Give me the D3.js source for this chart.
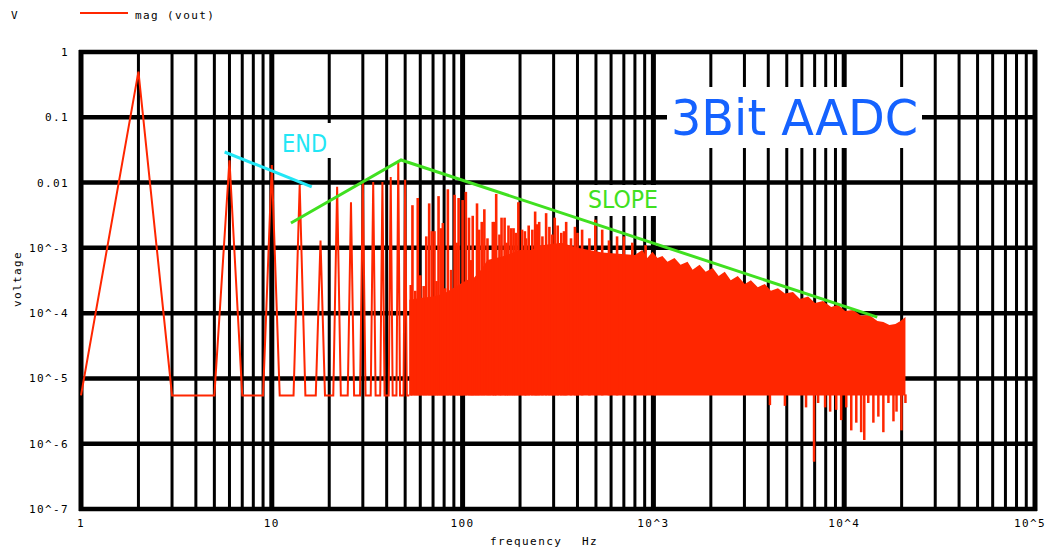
<!DOCTYPE html>
<html lang="en">
<head>
<meta charset="UTF-8">
<title>3Bit AADC spectrum</title>
<script src="https://d3js.org/d3.v7.min.js"></script>
<style>
  body { margin: 0; background: #fff; }
  svg { display: block; }
  .mono { font-family: "DejaVu Sans Mono", monospace; font-size: 11px; letter-spacing: 1.4px; fill: #000; }
</style>
</head>
<body>
<svg width="1047" height="550"></svg>
<script>
const width = 1047, height = 550;

// tick labels
const xTickVals = [1, 10, 100, 1e3, 1e4, 1e5];
const xTickText = ["1", "10", "100", "10^3", "10^4", "10^5"];
const yTickVals = [1, 0.1, 0.01, 1e-3, 1e-4, 1e-5, 1e-6, 1e-7];
const yTickText = ["1", "0.1", "0.01", "10^-3", "10^-4", "10^-5", "10^-6", "10^-7"];

// noise floor of the trace (V) and the bin width (Hz) of the sparse peaks
const floorV = 5.5e-6;
const binHz = 1;

// sparse low-frequency peaks (Hz, V)
const peakFreq = [2, 6, 10, 14, 18, 22, 26, 30, 34, 38, 42, 46, 50];
const peakVal  = [0.5, 0.022, 0.0186, 0.0092, 0.0013, 0.0086, 0.005, 0.0102, 0.0102, 0.0102, 0.0122, 0.0214, 0.011];

// dense part: top of the solid red band (Hz, V)
const denseTop = [
  [52.6, 1.6e-4], [60, 1.7e-4], [70, 1.8e-4], [80, 2.0e-4], [95, 2.7e-4], [105, 3.2e-4],
  [115, 3.5e-4], [125, 4.6e-4], [135, 6.5e-4], [160, 7.3e-4], [200, 9.3e-4], [230, 9.3e-4],
  [260, 1.1e-3], [330, 1.2e-3], [400, 1.0e-3], [539, 8.5e-4],
  [800, 7.8e-4], [875, 9.3e-4], [930, 7.0e-4], [988, 8.7e-4], [1050, 7.0e-4], [1115, 7.5e-4],
  [1185, 6.1e-4], [1290, 7.0e-4], [1388, 5.5e-4], [1510, 6.1e-4], [1605, 4.6e-4], [1746, 5.5e-4],
  [1879, 4.3e-4], [2046, 4.9e-4], [2198, 3.7e-4], [2366, 4.3e-4], [2543, 3.2e-4], [2768, 3.7e-4],
  [3013, 2.8e-4], [3243, 3.2e-4], [3525, 2.5e-4], [3837, 2.8e-4], [4128, 2.2e-4], [4495, 2.4e-4],
  [4890, 2.0e-4], [5390, 2.1e-4], [5865, 1.65e-4], [6470, 1.8e-4], [7035, 1.43e-4], [7745, 1.54e-4],
  [8545, 1.24e-4], [9300, 1.34e-4], [10120, 1.08e-4], [11140, 1.12e-4], [12270, 9.1e-5],
  [13540, 9.4e-5], [14920, 7.6e-5], [16040, 7.3e-5], [17260, 6.6e-5], [18550, 6.8e-5],
  [19720, 7.6e-5], [20940, 8.7e-5]
];

// spikes above the band (Hz, V)
const spikes = [
  [53.5, 2.7e-4], [54.6, 4.5e-3], [56.5, 2.2e-4], [58.2, 5.8e-3], [60, 3.8e-4], [62.5, 2.6e-4],
  [64.5, 1.5e-3], [66.8, 4.8e-3], [69, 1.8e-3], [71.2, 1.8e-3], [73, 3.1e-4], [74.8, 6.2e-3],
  [77, 2.0e-3], [78.8, 2.4e-3], [81, 2.4e-4], [83.7, 7.9e-3], [87, 4.6e-4], [90.8, 6.5e-3],
  [93, 1.2e-3], [95.3, 5.8e-3], [98, 2.4e-4], [100, 5.4e-3], [104, 7.2e-3], [108, 2.9e-3],
  [111, 6.5e-4], [113, 3.1e-3], [116, 3.2e-4], [119, 4.8e-3], [122, 1.9e-3], [126, 2.5e-3],
  [130, 3.9e-3], [135, 1.4e-3], [139, 4.3e-4], [144, 2.5e-3], [147, 2.5e-3], [150, 6.7e-3],
  [156, 1.6e-3], [160, 2.9e-3], [166, 2.9e-3], [170, 1.2e-3], [174, 2.2e-3], [180, 2.0e-3],
  [185, 2.0e-3], [190, 1.7e-3], [196, 5.0e-3], [205, 1.9e-3], [212, 1.8e-3], [215, 1.4e-3],
  [222, 2.2e-3], [232, 1.9e-3], [240, 3.6e-3], [245, 2.3e-3], [252, 2.5e-3], [262, 1.5e-3],
  [274, 3.4e-3], [285, 2.1e-3], [295, 1.6e-3], [304, 2.9e-3], [315, 2.2e-3], [329, 1.7e-3],
  [340, 1.8e-3], [349, 2.5e-3], [370, 1.4e-3], [388, 2.1e-3], [400, 1.7e-3], [423, 1.9e-3],
  [462, 1.4e-3], [496, 2.7e-3], [539, 1.9e-3], [585, 1.3e-3], [645, 1.5e-3], [700, 1.5e-3],
  [775, 1.2e-3], [910, 1.1e-3], [1020, 7.3e-4]
];

// dips below the floor at high frequency (Hz, V)
const dips = [
  [4080, 3.9e-6], [4890, 3.8e-6], [6310, 3.6e-6], [6950, 5.3e-7], [7300, 4.2e-6], [7940, 3.6e-6],
  [8440, 3.1e-6], [9080, 3.3e-6], [9640, 2.3e-6], [10250, 3.6e-6], [10890, 1.6e-6], [11570, 2.1e-6],
  [12270, 1.5e-6], [12740, 1.14e-6], [13370, 4.2e-6], [14220, 2.1e-6], [15100, 2.6e-6],
  [16040, 1.5e-6], [17050, 4.2e-6], [18120, 2.2e-6], [18800, 3.1e-6], [19950, 1.6e-6], [20940, 4.2e-6]
];

// hand drawn annotations (Hz, V)
const endLine = [[5.66, 0.0294], [16.2, 0.0086]];
const slopeLine = [[12.6, 2.4e-3], [47.6, 0.0222], [14900, 8.7e-5]];

const svg = d3.select("svg");

const x = d3.scaleLog().domain([1, 1e5]).range([81, 1035]);
const y = d3.scaleLog().domain([1e-7, 1]).range([509, 52]);

// grid
const grid = svg.append("g");
const minor = [];
for (let d = 1; d < 1e5; d *= 10) for (let k = 2; k <= 9; k++) minor.push(d * k);
grid.selectAll(".vminor").data(minor).enter().append("line")
  .attr("x1", d => x(d)).attr("x2", d => x(d))
  .attr("y1", y(1)).attr("y2", y(1e-7))
  .attr("stroke", "#000").attr("stroke-width", 3);
grid.selectAll(".hmajor").data(yTickVals).enter().append("line")
  .attr("x1", x(1) - 2).attr("x2", x(1e5) + 2)
  .attr("y1", d => y(d)).attr("y2", d => y(d))
  .attr("stroke", "#000").attr("stroke-width", 4.5);
grid.selectAll(".vmajor").data(xTickVals).enter().append("line")
  .attr("x1", d => x(d)).attr("x2", d => x(d))
  .attr("y1", y(1) - 2).attr("y2", y(1e-7) + 2)
  .attr("stroke", "#000").attr("stroke-width", 5);

// tick labels (last one pulled inside the page edge)
svg.selectAll(".xt").data(xTickVals).enter().append("text")
  .attr("class", "mono")
  .attr("x", (d, i) => i === xTickVals.length - 1 ? width - 1 : x(d)).attr("y", 527)
  .attr("text-anchor", (d, i) => i === xTickVals.length - 1 ? "end" : "middle")
  .text((d, i) => xTickText[i]);
svg.selectAll(".yt").data(yTickVals).enter().append("text")
  .attr("class", "mono")
  .attr("x", 69).attr("y", d => y(d) + 4)
  .attr("text-anchor", "end")
  .text((d, i) => yTickText[i]);

svg.append("text").attr("class", "mono").attr("x", 490).attr("y", 545).text("frequency");
svg.append("text").attr("class", "mono").attr("x", 582).attr("y", 545).text("Hz");
svg.append("text").attr("class", "mono")
  .attr("transform", "translate(21,279) rotate(-90)")
  .attr("text-anchor", "middle").text("voltage");

// legend
svg.append("text").attr("class", "mono").attr("x", 11).attr("y", 19).text("V");
svg.append("line").attr("x1", 80).attr("x2", 128).attr("y1", 13).attr("y2", 13)
  .attr("stroke", "#ff2600").attr("stroke-width", 2);
svg.append("text").attr("class", "mono").attr("x", 135).attr("y", 19).text("mag (vout)");

// trace
const red = "#ff2600";
const sparse = [];
peakFreq.forEach((f, i) => {
  sparse.push([f - binHz, floorV], [f, peakVal[i]], [f + binHz, floorV]);
});
sparse.push([denseTop[0][0], floorV]);

svg.append("path")
  .datum(sparse)
  .attr("fill", "none").attr("stroke", red).attr("stroke-width", 2)
  .attr("d", d3.line().x(d => x(d[0])).y(d => y(d[1])));

svg.append("path")
  .datum(denseTop)
  .attr("fill", red)
  .attr("d", d3.area().x(d => x(d[0])).y0(y(floorV)).y1(d => y(d[1])));

svg.selectAll(".spike").data(spikes).enter().append("line")
  .attr("x1", d => x(d[0])).attr("x2", d => x(d[0]))
  .attr("y1", y(floorV)).attr("y2", d => y(d[1]))
  .attr("stroke", red).attr("stroke-width", 2.6);

svg.selectAll(".dip").data(dips).enter().append("line")
  .attr("x1", d => x(d[0])).attr("x2", d => x(d[0]))
  .attr("y1", y(floorV) - 1).attr("y2", d => y(d[1]))
  .attr("stroke", red).attr("stroke-width", 2.5);

// annotations
const aLine = d3.line().x(d => x(d[0])).y(d => y(d[1]));
svg.append("path").datum(endLine).attr("fill", "none")
  .attr("stroke", "#22e6f5").attr("stroke-width", 3).attr("d", aLine);
svg.append("path").datum(slopeLine).attr("fill", "none")
  .attr("stroke", "#40e020").attr("stroke-width", 3).attr("d", aLine);

function label(txt, bx, by, bw, bh, tx, ty, size, len, color) {
  svg.append("rect").attr("x", bx).attr("y", by).attr("width", bw).attr("height", bh).attr("fill", "#fff");
  svg.append("text").attr("x", tx).attr("y", ty)
    .attr("font-family", "DejaVu Sans, sans-serif").attr("font-size", size)
    .attr("textLength", len).attr("lengthAdjust", "spacingAndGlyphs")
    .attr("fill", color).text(txt);
}
label("END", 278, 123, 53, 35, 282, 152, 25, 45, "#22e6f5");
label("SLOPE", 583, 185, 79, 31, 588, 208, 24, 70, "#40e020");
label("3Bit AADC", 667, 87, 255, 61, 671, 135, 50, 247, "#1562ff");
</script>
</body>
</html>
